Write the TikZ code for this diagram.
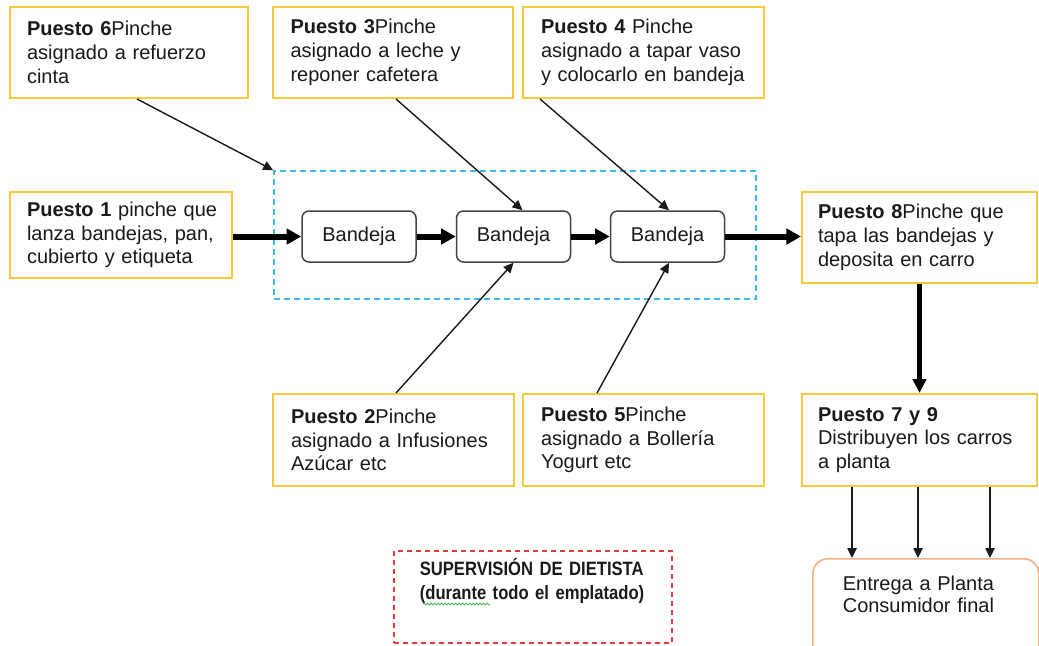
\documentclass[tikz,border=0pt]{standalone}
\usepackage{fontspec}
\setmainfont{Liberation Sans}
\newfontfamily\supfont[FakeStretch=0.86]{Liberation Sans}
\usetikzlibrary{arrows.meta,calc,decorations.pathmorphing}
\definecolor{yelc}{HTML}{FFC83A}
\definecolor{bluc}{HTML}{3DB8EA}
\definecolor{redc}{HTML}{F03A3A}
\definecolor{orac}{HTML}{F7B183}
\definecolor{grayc}{HTML}{444444}
\definecolor{inkc}{HTML}{1A1A1A}
\definecolor{wavc}{HTML}{4CB84C}
\newcommand\pxu{0.75pt}
\tikzset{
  ybox/.style={draw=yelc, line width=2*\pxu, inner xsep=0pt, inner ysep=0pt, align=left,
    font=\fontsize{15pt}{17.8pt}\selectfont, text=inkc},
  tray/.style={draw=grayc, line width=1.5*\pxu, rounded corners=7*\pxu, minimum width=114*\pxu,
    minimum height=51*\pxu, font=\fontsize{15pt}{17.8pt}\selectfont, text=inkc},
  thick arr/.style={line width=6*\pxu, -{Triangle[length=11pt,width=11.5pt]}},
  vthick arr/.style={line width=4.5*\pxu, -{Triangle[length=10.5pt,width=10pt]}},
  thin arr/.style={line width=1.4*\pxu, draw=inkc, -{Triangle[length=7.5pt,width=7pt]}},
}
\begin{document}
\begin{tikzpicture}[x=0.75pt,y=-0.75pt]
\useasboundingbox (0,0) rectangle (1039,646);
\clip (0,0) rectangle (1039,646);
\fill[white] (0,0) rectangle (1039,646);

% group (dashed blue)
\node[draw=bluc, line width=1.6*\pxu, dash pattern=on 6*\pxu off 4*\pxu,
  minimum width=482*\pxu, minimum height=128*\pxu, inner sep=0pt] (grp) at (515,235) {};

% top boxes
\node[ybox, minimum width=238*\pxu, minimum height=91*\pxu, text width=204*\pxu] (p6) at (129,52.5)
  {\textbf{Puesto 6}Pinche\\asignado a refuerzo\\cinta};
\node[ybox, minimum width=240*\pxu, minimum height=91*\pxu, text width=205*\pxu] (p3) at (393,52.5)
  {\textbf{Puesto 3}Pinche\\asignado a leche y\\reponer cafetera};
\node[ybox, minimum width=241*\pxu, minimum height=91*\pxu, text width=205*\pxu] (p4) at (643.5,52.5)
  {\textbf{Puesto 4} Pinche\\asignado a tapar vaso\\y colocarlo en bandeja};

% middle row
\node[ybox, minimum width=222*\pxu, minimum height=86*\pxu, text width=188*\pxu] (p1) at (121,235)
  {\textbf{Puesto~1}~pinche~que\\lanza bandejas, pan,\\cubierto y etiqueta};
\node[ybox, minimum width=235*\pxu, minimum height=91*\pxu, text width=203*\pxu] (p8) at (919.5,237.5)
  {\textbf{Puesto 8}Pinche que\\tapa las bandejas y\\deposita en carro};

\node[tray] (b1) at (359,236.5) {Bandeja};
\node[tray] (b2) at (513.5,236.5) {Bandeja};
\node[tray] (b3) at (667.5,236.5) {Bandeja};

% bottom boxes
\node[ybox, minimum width=241*\pxu, minimum height=92*\pxu, text width=205*\pxu] (p2) at (393.5,440)
  {\textbf{Puesto 2}Pinche\\asignado a Infusiones\\Azúcar etc};
\node[ybox, minimum width=241*\pxu, minimum height=92*\pxu, text width=205*\pxu] (p5) at (643.5,440)
  {\textbf{Puesto 5}Pinche\\asignado a Bollería\\Yogurt etc};
\node[ybox, minimum width=235*\pxu, minimum height=92*\pxu, text width=203*\pxu] (p79) at (919.5,440)
  {\textbf{Puesto 7 y 9}\\Distribuyen los carros\\a planta};

% supervision
\node[draw=redc, line width=1.6*\pxu, dash pattern=on 5*\pxu off 4*\pxu, anchor=north west,
  minimum width=278*\pxu, inner xsep=0pt, inner ysep=0pt, align=left,
  text width=226*\pxu, text height=25*\pxu, text depth=67*\pxu,
  font=\supfont\fontsize{14.5pt}{18pt}\selectfont\bfseries, text=inkc] (sup) at (393,550)
  {SUPERVISIÓN DE DIETISTA\\(durante todo el emplatado)};
\draw[wavc, line width=0.8*\pxu, decorate, decoration={snake, amplitude=1*\pxu, segment length=3.5*\pxu}]
  (423,604) -- (490,604);

% final
\node[draw=orac, line width=1.6*\pxu, rounded corners=15*\pxu, anchor=north west,
  minimum width=226*\pxu, inner xsep=0pt, inner ysep=0pt, align=left,
  text width=166*\pxu, text height=32*\pxu, text depth=90*\pxu,
  font=\fontsize{15pt}{16.5pt}\selectfont, text=inkc] (ent) at (812,558)
  {Entrega a Planta\\Consumidor final};

% thick flow arrows
\draw[thick arr] (p1.east |- b1.west) -- (b1.west);
\draw[thick arr] (b1.east) -- (b2.west);
\draw[thick arr] (b2.east) -- (b3.west);
\draw[thick arr] (b3.east) -- (p8.west |- b3.east);
\draw[vthick arr] (p8.south) -- (p79.north);

% thin arrows
\draw[thin arr] ($(p6.south west)+(128,0)$) -- (grp.north west);
\draw[thin arr] ($(p3.south west)+(124,0)$) -- ($(b2.north)+(9,0)$);
\draw[thin arr] ($(p4.south west)+(18,0)$) -- ($(b3.north)+(1.5,0)$);
\draw[thin arr] ($(p2.north west)+(124,0)$) -- (b2.south);
\draw[thin arr] ($(p5.north west)+(75,0)$) -- ($(b3.south)+(1.5,0)$);

\coordinate (d1) at (852,0);
\coordinate (d2) at (918,0);
\coordinate (d3) at (990,0);
\draw[thin arr] (p79.south -| d1) -- (ent.north -| d1);
\draw[thin arr] (p79.south -| d2) -- (ent.north -| d2);
\draw[thin arr] (p79.south -| d3) -- (ent.north -| d3);
\end{tikzpicture}
\end{document}
